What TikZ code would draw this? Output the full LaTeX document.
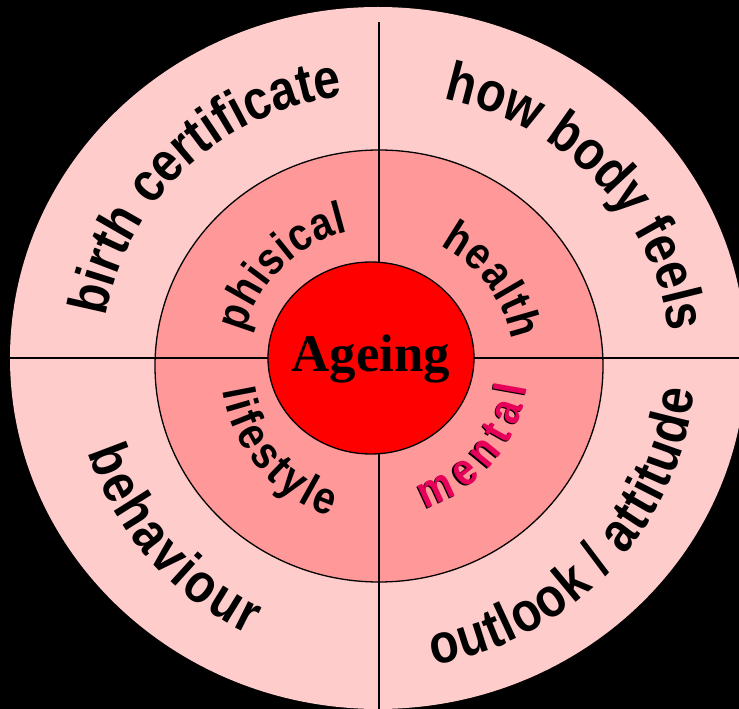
\documentclass[tikz,border=0pt]{standalone}
\usepackage{fontspec}
\setmainfont{Liberation Serif}
\newfontfamily\arcsans[FakeStretch=0.86]{Liberation Sans}
\usetikzlibrary{decorations.text}

\definecolor{outerpink}{RGB}{255,204,204}
\definecolor{midpink}{RGB}{255,153,153}
\definecolor{corered}{RGB}{255,0,0}
\definecolor{mentalpink}{RGB}{230,0,90}

\newcommand{\outerlabel}{\fontsize{56}{56}\selectfont\arcsans\bfseries}
\newcommand{\innerlabel}{\fontsize{46}{46}\selectfont\arcsans\bfseries}

\tikzset{
  ringline/.style={line width=1.3bp, draw=black},
  arclabel/.style={decorate, decoration={text along path, text align={fit to path}, text={#1}}},
}

\begin{document}
\begin{tikzpicture}[x=1bp, y=1bp]
  \useasboundingbox (-378,-351) rectangle (361,358);
  \clip (-378,-351) rectangle (361,358);
  \fill[black] (-378,-351) rectangle (361,358);

  % rings
  \fill[outerpink] (0,0) ellipse [x radius=368, y radius=351];
  \filldraw[fill=midpink, ringline] (1,-8) ellipse [x radius=224, y radius=216];

  \coordinate (vtop) at (1,336);
  \coordinate (vbot) at (1,-360);
  \coordinate (hleft) at (-368,0);
  \coordinate (hright) at (370,0);
  \draw[ringline] (vtop) -- (vbot);
  \draw[ringline] (hleft) -- (hright);

  \filldraw[fill=corered, ringline] (-7,0) ellipse [x radius=103, y radius=96];
  \node[font=\fontsize{53}{53}\selectfont\bfseries] (ageing) at (-7,-1) {Ageing};

  % outer ring labels
  \path[arclabel={|\outerlabel|birth certificate}] (171:275 and 264) arc[start angle=171, end angle=98, x radius=275, y radius=264];
  \path[arclabel={|\outerlabel|how body feels}] (77:292 and 266) arc[start angle=77, end angle=6, x radius=292, y radius=266];
  \path[arclabel={|\outerlabel|behaviour}] (198:305) arc[start angle=198, end angle=245, radius=305];
  \path[arclabel={|\outerlabel|outlook / attitude}] (-80:318 and 312) arc[start angle=-80, end angle=-6, x radius=318, y radius=312];

  % inner ring labels
  \begin{scope}[shift={(1,-8)}]
    \path[arclabel={|\innerlabel|phisical}] (166:138) arc[start angle=166, end angle=103, radius=138];
    \path[arclabel={|\innerlabel|health}] (63:135) arc[start angle=63, end angle=11, radius=135];
    \path[arclabel={|\innerlabel|lifestyle}] (189:158) arc[start angle=189, end angle=252, radius=158];
    \path[arclabel={|\innerlabel|mental}, shift={(-1.5,-1)}] (-72:150) arc[start angle=-72, end angle=-8, radius=150];
    \path[arclabel={|\innerlabel\color{mentalpink}|mental}] (-72:150) arc[start angle=-72, end angle=-8, radius=150];
  \end{scope}
\end{tikzpicture}
\end{document}
